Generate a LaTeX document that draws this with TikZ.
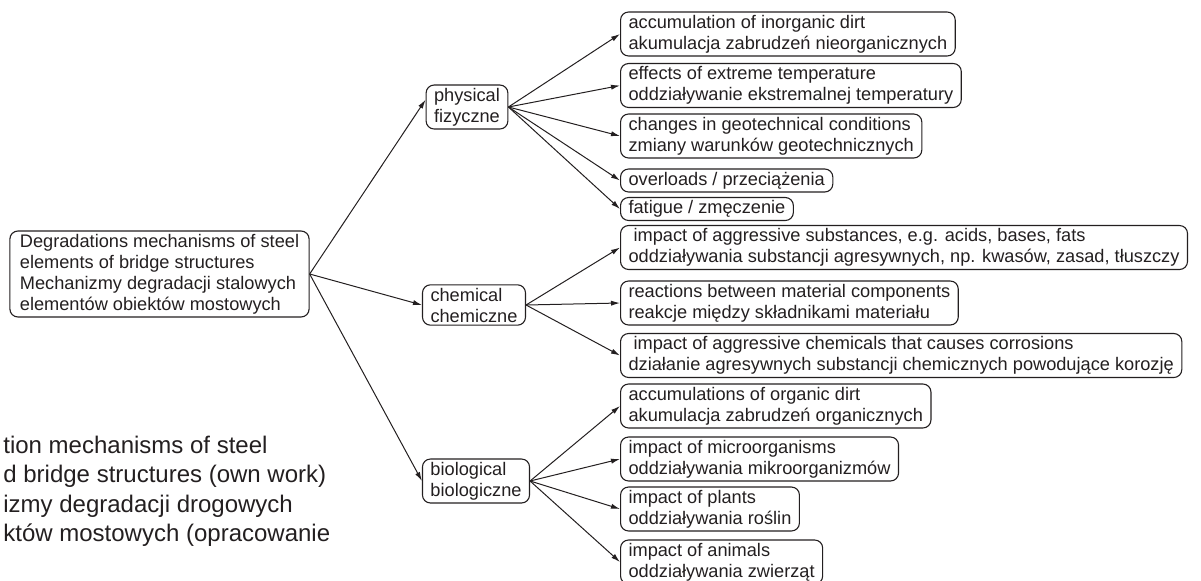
\documentclass[tikz,border=0pt]{standalone}
\usepackage{fontspec}
\setmainfont{Liberation Sans}
\usetikzlibrary{arrows.meta,positioning}
\definecolor{ink}{HTML}{231F20}
\tikzset{
  box/.style={draw=ink, line width=0.55pt, rounded corners=4pt, align=left,
    inner xsep=4pt, inner ysep=1.5pt, text=ink,
    font=\fontsize{9.1}{10.5}\selectfont},
  leaf/.style={box, anchor=west},
  arr/.style={draw=ink, line width=0.5pt, -{Latex[length=4.5pt,width=2.6pt]}}
}
\begin{document}
\begin{tikzpicture}[x=0.5pt,y=-0.5pt]
  \useasboundingbox (0,0) rectangle (1201,580);
  % main node and the three groups
  \node[box, inner xsep=5pt] (root) at (159.5,274) {Degradations mechanisms of steel\\elements of bridge structures\\Mechanizmy degradacji stalowych\\elementów obiektów mostowych};
  \node[box] (phys) at (467,107) {physical\\fizyczne};
  \node[box] (chem) at (474,305) {chemical\\chemiczne};
  \node[box] (bio) at (476,481) {biological\\biologiczne};
  % physical
  \node[leaf] (p1) at (620,34) {accumulation of inorganic dirt\\akumulacja zabrudzeń nieorganicznych};
  \node[leaf] (p2) at (620,85.5) {effects of extreme temperature\\oddziaływanie ekstremalnej temperatury};
  \node[leaf] (p3) at (620,136) {changes in geotechnical conditions\\zmiany warunków geotechnicznych};
  \node[leaf] (p4) at (620,180.5) {overloads / przeciążenia};
  \node[leaf] (p5) at (620,209) {fatigue / zmęczenie};
  % chemical
  \node[leaf] (c1) at (620,247.5) {~impact of aggressive substances, e.g. acids, bases, fats\\oddziaływania substancji agresywnych, np. kwasów, zasad, tłuszczy};
  \node[leaf] (c2) at (620,303) {reactions between material components\\reakcje między składnikami materiału};
  \node[leaf] (c3) at (620,355.5) {~impact of aggressive chemicals that causes corrosions\\działanie agresywnych substancji chemicznych powodujące korozję};
  % biological
  \node[leaf] (b1) at (620,406) {accumulations of organic dirt\\akumulacja zabrudzeń organicznych};
  \node[leaf] (b2) at (620,459) {impact of microorganisms\\oddziaływania mikroorganizmów};
  \node[leaf] (b3) at (620,509) {impact of plants\\oddziaływania roślin};
  \node[leaf] (b4) at (620,562) {impact of animals\\oddziaływania zwierząt};
  % caption (cut off at the left)
  \node[anchor=north west, align=left, inner sep=0pt, text=ink,
    font=\fontsize{12}{14.6}\selectfont] (cap) at (3,436)
    {tion mechanisms of steel\\d bridge structures (own work)\\izmy degradacji drogowych\\któw mostowych (opracowanie};
  % arrows
  \draw[arr] (root.east) -- (phys.170);
  \draw[arr] (root.east) -- (chem.west);
  \draw[arr] (root.east) -- (bio.west);
  \foreach \t in {p1,p2,p3,p4,p5}
    \draw[arr] (phys.east) -- (\t.west);
  \foreach \t in {c1,c2,c3}
    \draw[arr] (chem.east) -- (\t.west);
  \foreach \t in {b1,b2,b3,b4}
    \draw[arr] (bio.east) -- (\t.west);
\end{tikzpicture}
\end{document}
